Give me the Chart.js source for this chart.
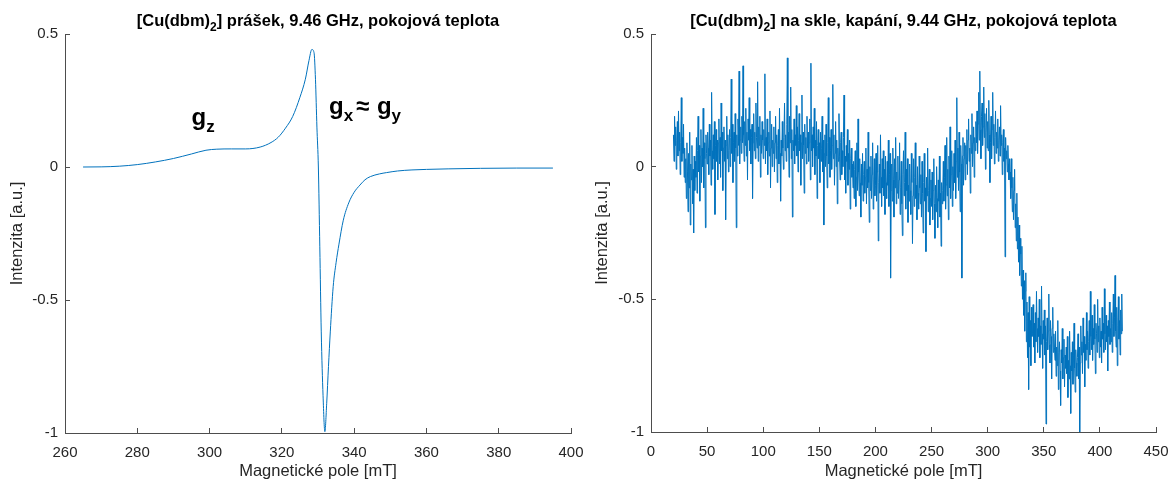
<!DOCTYPE html>
<html>
<head>
<meta charset="utf-8">
<script src="https://cdn.jsdelivr.net/npm/chart.js@4/dist/chart.umd.min.js"></script>
<style>
  html, body { margin: 0; padding: 0; background: #fff; }
  #wrap { position: relative; width: 1169px; height: 482px; overflow: hidden; }
  .panel { position: absolute; top: 0; height: 482px; }
  .title {
    position: absolute; top: 11px; height: 20px; line-height: 20px;
    text-align: center; white-space: nowrap;
    font: bold 16.5px "Liberation Sans", Arial, sans-serif; color: #000;
  }
  .title sub { font-size: 12px; vertical-align: -5px; line-height: 0; }
</style>
</head>
<body>
<div id="wrap">
  <div class="panel" style="left:0;width:585px"><canvas id="powderChart" width="585" height="482"></canvas></div>
  <div class="panel" style="left:585px;width:584px"><canvas id="glassChart" width="584" height="482"></canvas></div>
  <div class="title" style="left:65px;width:506px">[Cu(dbm)<sub>2</sub>] prášek, 9.46 GHz, pokojová teplota</div>
  <div class="title" style="left:651px;width:505px">[Cu(dbm)<sub>2</sub>] na skle, kapání, 9.44 GHz, pokojová teplota</div>
</div>
<script>
// powder spectrum
const powderField = [
  265, 270, 275, 280, 285, 290, 295, 299, 302, 306,
  310, 314, 317, 319, 321, 323, 325, 326.5, 327.5, 328.3,
  328.9, 329.3, 329.7, 330.1, 330.5, 330.9, 331.4, 331.9, 332.4, 332.9,
  333.4, 334.2, 335, 335.8, 337, 338.5, 340, 341.6, 343, 344.5,
  347, 349, 352, 356, 360, 366, 375, 385, 395
];
const powderSignal = [
  0, 0.0005, 0.003, 0.009, 0.019, 0.032, 0.049, 0.063, 0.067, 0.068,
  0.068, 0.075, 0.092, 0.112, 0.146, 0.19, 0.262, 0.33, 0.4, 0.442,
  0.43, 0.33, 0.15, 0, -0.3, -0.62, -0.86, -0.995, -0.89, -0.75,
  -0.62, -0.45, -0.36, -0.29, -0.2, -0.135, -0.095, -0.068, -0.048, -0.036,
  -0.026, -0.021, -0.015, -0.011, -0.009, -0.007, -0.005, -0.004, -0.004
];

// drop-cast film on glass, one reading every 0.5 mT from 20 to 420 mT
const glassStart = 20;
const glassStep = 0.5;
const glassSignal = [
  0.12, 0.02, 0.19, 0.08, 0.15, -0.01, 0.10, 0.17, 0.04, 0.21, 0.06, 0.13, -0.03, 0.09, 0.26, 0.02, 0.11, 0.05, 0.16, -0.04,
  0.07, -0.06, 0.03, -0.12, 0.09, -0.02, -0.17, 0.05, -0.08, 0.13, -0.22, 0.01, -0.05, 0.08, -0.14, -0.01, -0.25, 0.04, -0.09, 0.02,
  -0.04, 0.11, -0.10, 0.06, 0.19, -0.02, 0.08, -0.13, 0.04, 0.14, -0.06, 0.07, 0.00, 0.22, -0.08, 0.09, 0.03, -0.23, 0.12, 0.05,
  0.01, 0.13, 0.07, -0.03, 0.16, 0.04, 0.10, -0.07, 0.28, 0.06, -0.01, 0.12, 0.03, 0.17, -0.18, 0.08, 0.14, 0.02, 0.10, -0.05,
  0.09, 0.18, 0.01, 0.11, -0.04, 0.24, 0.06, 0.13, -0.09, 0.07, 0.15, 0.02, 0.10, -0.20, 0.08, 0.19, 0.03, 0.12, -0.02, 0.06,
  0.14, 0.00, 0.11, 0.33, 0.05, 0.16, -0.06, 0.09, 0.13, 0.02, 0.20, 0.07, -0.23, 0.12, 0.04, 0.18, 0.08, 0.36, 0.01, 0.10,
  0.15, 0.05, 0.19, 0.09, 0.38, 0.12, 0.02, 0.17, 0.08, 0.22, 0.04, 0.13, -0.05, 0.18, 0.10, 0.26, 0.06, 0.14, 0.01, 0.11,
  0.16, -0.12, 0.09, 0.20, 0.06, 0.13, 0.03, 0.24, 0.11, 0.07, 0.32, 0.02, 0.15, 0.08, 0.19, -0.04, 0.12, 0.05, 0.17, 0.10,
  0.03, 0.14, 0.08, 0.35, 0.01, 0.11, 0.06, 0.18, -0.03, 0.09, 0.13, 0.04, 0.21, -0.08, 0.07, 0.16, 0.00, 0.10, 0.05, 0.15,
  -0.02, 0.09, 0.19, 0.03, 0.12, -0.06, 0.08, 0.14, 0.01, 0.22, 0.05, -0.13, 0.10, 0.04, 0.17, 0.07, -0.01, 0.11, 0.24, 0.06,
  0.12, 0.02, 0.16, 0.41, 0.07, 0.13, -0.04, 0.19, 0.09, 0.30, 0.03, 0.14, -0.19, 0.10, 0.06, 0.18, 0.01, 0.12, 0.08, 0.23,
  0.04, 0.15, -0.02, 0.10, 0.20, 0.06, 0.12, -0.07, 0.09, 0.27, 0.03, 0.13, 0.08, -0.10, 0.16, 0.05, 0.11, 0.01, 0.19, 0.07,
  0.13, 0.02, 0.09, 0.18, -0.05, 0.39, 0.06, 0.12, 0.00, 0.15, 0.07, 0.22, -0.03, 0.10, 0.04, 0.17, -0.12, 0.08, 0.14, 0.03,
  0.09, -0.06, 0.13, 0.02, 0.07, 0.19, -0.02, 0.10, -0.22, 0.05, 0.12, 0.00, 0.16, 0.04, -0.08, 0.09, 0.26, 0.01, 0.11, -0.04,
  0.06, 0.14, -0.01, 0.08, 0.31, 0.03, 0.12, -0.07, 0.05, 0.17, 0.00, 0.10, -0.14, 0.07, 0.02, 0.20, 0.04, -0.05, 0.09, 0.13,
  -0.03, 0.06, 0.00, 0.11, 0.27, -0.05, 0.04, -0.10, 0.08, 0.02, 0.14, -0.07, 0.05, -0.01, 0.10, -0.16, 0.03, 0.07, -0.04, 0.01,
  -0.08, 0.02, -0.12, -0.01, 0.06, -0.15, -0.04, 0.09, -0.09, 0.18, -0.02, -0.11, 0.03, -0.06, -0.19, 0.01, -0.07, 0.05, -0.13, -0.03,
  0.02, -0.10, -0.04, 0.07, -0.14, -0.01, -0.08, 0.13, -0.06, -0.21, 0.00, -0.09, 0.04, -0.12, -0.03, 0.09, -0.16, -0.05, 0.03, -0.11,
  -0.07, 0.05, -0.13, -0.02, 0.08, -0.28, -0.06, 0.01, -0.10, 0.12, -0.04, -0.15, 0.03, -0.08, 0.06, -0.11, -0.01, -0.18, 0.04, -0.06,
  -0.12, 0.02, -0.07, 0.10, -0.15, -0.03, 0.05, -0.42, -0.09, 0.01, -0.13, 0.07, -0.05, -0.19, 0.03, -0.08, 0.11, -0.14, -0.02, -0.10,
  0.04, -0.12, -0.05, 0.09, -0.18, -0.08, 0.02, -0.14, -0.26, -0.03, 0.06, -0.11, -0.06, 0.13, -0.16, -0.01, -0.09, 0.03, -0.21, -0.07,
  -0.13, 0.01, -0.09, -0.18, 0.05, -0.06, -0.29, -0.11, 0.03, -0.15, -0.04, 0.09, -0.12, -0.07, -0.20, 0.00, -0.10, -0.16, 0.04, -0.08,
  -0.14, -0.03, -0.19, 0.02, -0.10, -0.25, -0.06, 0.05, -0.13, -0.08, -0.32, -0.04, -0.11, 0.07, -0.17, -0.09, -0.01, -0.22, -0.12, -0.05,
  -0.15, -0.02, -0.20, -0.09, 0.03, -0.14, -0.27, -0.07, -0.17, 0.00, -0.12, -0.23, -0.05, -0.13, 0.04, -0.19, -0.10, -0.30, -0.06, -0.14,
  -0.09, 0.02, -0.13, -0.04, 0.08, -0.16, -0.07, 0.11, -0.11, -0.01, -0.20, 0.04, -0.08, 0.15, -0.12, -0.03, 0.06, -0.15, 0.00, -0.09,
  0.05, -0.06, 0.10, -0.12, 0.02, 0.26, -0.04, 0.07, -0.09, 0.13, -0.02, -0.17, 0.08, 0.01, -0.42, 0.04, 0.11, -0.07, 0.03, 0.09,
  -0.05, 0.08, 0.01, 0.14, -0.03, 0.10, 0.18, 0.02, 0.07, -0.10, 0.12, 0.05, 0.20, 0.00, 0.09, 0.15, -0.04, 0.11, 0.06, 0.17,
  0.09, 0.21, 0.05, 0.16, 0.28, 0.10, 0.36, 0.14, 0.03, 0.19, 0.24, 0.08, 0.15, 0.30, 0.11, 0.20, -0.01, 0.13, 0.22, 0.07,
  0.17, 0.06, 0.25, 0.12, -0.06, 0.09, 0.19, 0.03, 0.14, 0.28, 0.08, 0.16, 0.01, 0.11, 0.21, 0.05, 0.13, 0.07, 0.18, 0.02,
  0.10, 0.15, 0.04, 0.23, 0.08, 0.12, -0.03, 0.09, 0.14, 0.02, 0.07, -0.34, 0.11, 0.03, 0.06, -0.02, 0.08, 0.01, -0.05, 0.03,
  -0.02, -0.12, 0.03, -0.08, -0.17, -0.04, -0.20, -0.09, -0.01, -0.23, -0.14, -0.28, -0.10, -0.31, -0.19, -0.36, -0.22, -0.41, -0.27, -0.33,
  -0.45, -0.30, -0.50, -0.39, -0.56, -0.43, -0.62, -0.47, -0.40, -0.66, -0.51, -0.72, -0.55, -0.84, -0.49, -0.68, -0.58, -0.75, -0.53, -0.64,
  -0.63, -0.52, -0.68, -0.59, -0.74, -0.55, -0.66, -0.47, -0.61, -0.70, -0.57, -0.64, -0.50, -0.72, -0.60, -0.67, -0.45, -0.63, -0.76, -0.58,
  -0.65, -0.54, -0.71, -0.60, -0.97, -0.66, -0.57, -0.69, -0.62, -0.48, -0.67, -0.74, -0.58, -0.64, -0.80, -0.61, -0.53, -0.70, -0.63, -0.68,
  -0.73, -0.62, -0.79, -0.68, -0.75, -0.58, -0.84, -0.70, -0.66, -0.77, -0.90, -0.69, -0.74, -0.61, -0.80, -0.72, -0.65, -0.83, -0.71, -0.76,
  -0.68, -0.78, -0.64, -0.87, -0.73, -0.80, -0.62, -0.75, -0.93, -0.70, -0.77, -0.66, -0.82, -0.71, -0.59, -0.76, -0.85, -0.69, -0.74, -0.79,
  -0.72, -0.63, -0.80, -0.68, -1.00, -0.74, -0.60, -0.71, -0.66, -0.78, -0.57, -0.70, -0.64, -0.83, -0.67, -0.73, -0.55, -0.69, -0.62, -0.76,
  -0.66, -0.58, -0.71, -0.47, -0.64, -0.69, -0.56, -0.73, -0.61, -0.67, -0.52, -0.65, -0.78, -0.59, -0.63, -0.70, -0.50, -0.66, -0.60, -0.72,
  -0.57, -0.68, -0.62, -0.74, -0.53, -0.65, -0.59, -0.70, -0.46, -0.63, -0.69, -0.56, -0.66, -0.60, -0.77, -0.58, -0.64, -0.51, -0.67, -0.61,
  -0.66, -0.55, -0.70, -0.59, -0.48, -0.64, -0.57, -0.41, -0.62, -0.68, -0.53, -0.75, -0.60, -0.49, -0.65, -0.58, -0.71, -0.54, -0.63, -0.48,
  -0.62
];

// g-factor labels on the powder panel: [main, subscript, field, intensity]
const powderLabels = [
  ['g', 'z', 295.0, 0.158],
  ['g', 'x', 333.05, 0.199],
  ['≈', '', 340.5, 0.199],
  ['g', 'y', 346.3, 0.199]
];

const lineColor = '#0072BD';
const axisColor = '#262626';
const fontFamily = '"Liberation Sans", Arial, sans-serif';

const gLabelPlugin = {
  id: 'gLabels',
  afterDatasetsDraw(chart) {
    const { ctx, scales } = chart;
    ctx.save();
    ctx.fillStyle = '#000';
    ctx.textBaseline = 'alphabetic';
    ctx.textAlign = 'left';
    powderLabels.forEach(([main, sub, field, value]) => {
      const px = scales.x.getPixelForValue(field);
      const py = scales.y.getPixelForValue(value);
      ctx.font = 'bold 24px ' + fontFamily;
      ctx.fillText(main, px, py);
      const w = ctx.measureText(main).width;
      if (sub) {
        ctx.font = 'bold 17px ' + fontFamily;
        ctx.fillText(sub, px + w, py + 7);
      }
    });
    ctx.restore();
  }
};

function axisOptions(min, max, step, title, isX, fixedSize) {
  return {
    type: 'linear',
    min: min,
    max: max,
    border: { display: true, color: '#4d4d4d', width: 1 },
    grid: {
      display: true,
      drawOnChartArea: false,
      drawTicks: true,
      tickLength: -5,
      tickColor: '#4d4d4d'
    },
    ticks: {
      stepSize: step,
      color: axisColor,
      font: { family: fontFamily, size: 15 },
      padding: isX ? 16 : 12,
      maxRotation: 0,
      autoSkip: false,
      callback: value => String(value)
    },
    title: {
      display: true,
      text: title,
      color: axisColor,
      font: { family: fontFamily, size: 16.5 },
      padding: isX ? { top: 0, bottom: 1 } : { top: 8, bottom: 0 }
    },
    afterFit(scale) {
      if (isX) scale.height = fixedSize;
      else scale.width = fixedSize;
      scale.paddingLeft = 0;
      scale.paddingRight = 0;
      scale.paddingTop = 0;
      scale.paddingBottom = 0;
    }
  };
}

function baseOptions(padRight, xAxis, yAxis) {
  return {
    responsive: false,
    animation: false,
    devicePixelRatio: 1,
    layout: { padding: { left: 0, right: padRight, top: 34, bottom: 0 } },
    plugins: { legend: { display: false }, tooltip: { enabled: false } },
    scales: { x: xAxis, y: yAxis }
  };
}

new Chart(document.getElementById('powderChart'), {
  type: 'line',
  data: {
    datasets: [{
      data: powderField.map((x, i) => ({ x: x, y: powderSignal[i] })),
      borderColor: lineColor,
      borderWidth: 1,
      pointRadius: 0,
      fill: false,
      cubicInterpolationMode: 'monotone'
    }]
  },
  options: baseOptions(
    14,
    axisOptions(260, 400, 20, 'Magnetické pole [mT]', true, 49),
    axisOptions(-1, 0.5, 0.5, 'Intenzita [a.u.]', false, 65)
  ),
  plugins: [gLabelPlugin]
});

new Chart(document.getElementById('glassChart'), {
  type: 'line',
  data: {
    datasets: [{
      data: glassSignal.map((y, i) => ({ x: glassStart + i * glassStep, y: y })),
      borderColor: lineColor,
      borderWidth: 1,
      pointRadius: 0,
      fill: false,
      tension: 0
    }]
  },
  options: baseOptions(
    13,
    axisOptions(0, 450, 50, 'Magnetické pole [mT]', true, 50),
    axisOptions(-1, 0.5, 0.5, 'Intenzita [a.u.]', false, 66)
  )
});
</script>
</body>
</html>
